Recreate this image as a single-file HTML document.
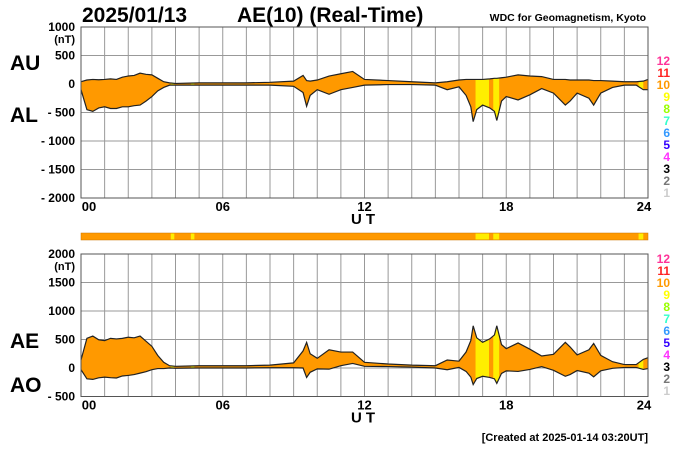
<!DOCTYPE html>
<html><head><meta charset="utf-8"><style>
body{margin:0;background:#fff;}
svg text{font-family:"Liberation Sans",Arial,sans-serif;font-weight:bold;}
</style></head><body>
<svg id="c" width="700" height="450" viewBox="0 0 700 450" xmlns="http://www.w3.org/2000/svg">
<defs></defs>
</svg>
<script>
const hours=[0,0.25,0.5,0.75,1,1.25,1.5,1.75,2,2.25,2.5,2.75,3,3.25,3.5,3.75,4,5,6,7,8,9,9.4,9.55,9.7,10,10.5,11,11.5,12,13,14,15,15.5,16,16.3,16.5,16.6,16.75,17,17.3,17.5,17.6,17.8,18,18.5,19,19.5,20,20.5,20.7,21,21.5,21.7,22,22.5,23,23.5,23.8,24];
const auValues=[40,70,80,75,80,90,80,120,140,150,190,170,160,100,40,20,10,20,20,20,30,50,150,60,50,70,140,180,220,80,60,40,20,40,70,80,80,80,80,80,90,100,100,110,120,160,140,130,80,80,70,70,70,60,60,50,40,40,50,80];
const alValues=[-100,-450,-480,-420,-400,-430,-430,-400,-400,-380,-370,-300,-220,-120,-60,-20,-20,-20,-20,-20,-20,-40,-150,-390,-200,-100,-180,-100,-60,-20,-10,-10,-20,-100,-50,-200,-400,-660,-450,-370,-420,-480,-640,-300,-220,-280,-190,-80,-160,-370,-300,-160,-250,-370,-160,-60,-20,-20,-100,-100];
const activeStart=[3.8,4.65,16.7,17.45,23.6];
const activeEnd=[3.95,4.8,17.27,17.7,23.8];
const topTicks=[1000,500,0,-500,-1000,-1500,-2000];
const botTicks=[2000,1500,1000,500,0,-500];
const hourTicks=[0,6,12,18,24];
const legendNums=[12,11,10,9,8,7,6,5,4,3,2,1];
const legendCols=["#ff3399","#ff2222","#ff9900","#ffff00","#99ff00","#33ffcc","#3399ff","#3300ff","#ff33ff","#000000","#777777","#cccccc"];

const svg=document.getElementById('c');
const NS="http://www.w3.org/2000/svg";
function mk(t,a,txt){const e=document.createElementNS(NS,t);for(const k in a)e.setAttribute(k,a[k]);if(txt!==undefined)e.textContent=txt;svg.appendChild(e);return e;}
const X0=81,X1=648;
const xs=h=>X0+(X1-X0)*h/24;
function panel(top,maxV,minV,ticks,idp,upper,lower,lab1,lab2,legendY,y1,y2){
  const bot=top+(maxV-minV)*0.057;
  const ys=v=>top+(maxV-v)*0.057;
  for(let h=0;h<=24;h++){const l=mk('line',{x1:xs(h),x2:xs(h),y1:top,y2:bot,stroke:'#999','stroke-width':1});
    }
  ticks.forEach(v=>{const l=mk('line',{x1:X0,x2:X1,y1:ys(v),y2:ys(v),stroke:'#999','stroke-width':1});
    
    const t=mk('text',{x:75,y:ys(v)+4,'text-anchor':'end','font-size':12},v<0?'- '+(-v):String(v));
    });
  const u=mk('text',{x:75,y:ys(maxV)+16,'text-anchor':'end','font-size':11},'(nT)');
  
  let up=hours.map((h,i)=>xs(h)+','+ys(upper[i]));
  let lo=hours.map((h,i)=>xs(h)+','+ys(lower[i])).reverse();
  const cp=document.createElementNS(NS,'clipPath');cp.setAttribute('id','cp'+idp);
  const cpp=document.createElementNS(NS,'polygon');cpp.setAttribute('points',up.concat(lo).join(' '));cp.appendChild(cpp);
  svg.querySelector('defs').appendChild(cp);
  const f=mk('polygon',{points:up.concat(lo).join(' '),fill:'#ff9900'});
  
  activeStart.forEach((s,i)=>{const r=mk('rect',{x:xs(s),y:top,width:xs(activeEnd[i])-xs(s),height:bot-top,fill:'#ffee00','clip-path':'url(#cp'+idp+')'});
    });
  const l1=mk('polyline',{points:up.join(' '),fill:'none',stroke:'#222','stroke-width':1.2});
  
  const l2=mk('polyline',{points:lo.join(' '),fill:'none',stroke:'#222','stroke-width':1.2});
  
  const fr=mk('rect',{x:X0,y:top,width:X1-X0,height:bot-top,fill:'none',stroke:'#555','stroke-width':1});
  
  hourTicks.forEach(h=>{const t=mk('text',{x:h===0?xs(h)+8:(h===24?xs(h)-4:xs(h)),y:bot+13,'text-anchor':'middle','font-size':13},(h<10?'0':'')+h);
    });
  const ut=mk('text',{x:365,y:bot+26,'text-anchor':'middle','font-size':15,'letter-spacing':'4'},'UT');
  
  const a=mk('text',{x:10,y:y1,'font-size':21},lab1);
  
  const b=mk('text',{x:10,y:y2,'font-size':21},lab2);
  
  legendNums.forEach((n,i)=>{const t=mk('text',{x:670,y:legendY+i*12,'text-anchor':'end','font-size':12,fill:legendCols[i]},String(n));
    });
}
const aeValues=auValues.map((v,i)=>v-alValues[i]);
const aoValues=auValues.map((v,i)=>(v+alValues[i])/2);
panel(27,1000,-2000,topTicks,'t',auValues,alValues,'AU','AL',65,70,122);
panel(254,2000,-500,botTicks,'b',aeValues,aoValues,'AE','AO',263,348,392);
const cb=mk('rect',{x:X0,y:233,width:X1-X0,height:7,fill:'#ff9900',stroke:'#cc7700','stroke-width':0.5});

activeStart.forEach((s,i)=>{const r=mk('rect',{x:xs(s),y:233.5,width:xs(activeEnd[i])-xs(s),height:6,fill:'#ffee00'});
  });
const t1=mk('text',{x:82,y:22,'font-size':21},'2025/01/13');

const t2=mk('text',{x:237,y:22,'font-size':21},'AE(10) (Real-Time)');

const t3=mk('text',{x:646,y:21,'text-anchor':'end','font-size':10.5},'WDC for Geomagnetism, Kyoto');

const t4=mk('text',{x:648,y:441,'text-anchor':'end','font-size':11},'[Created at 2025-01-14 03:20UT]');

</script>
</body></html>
